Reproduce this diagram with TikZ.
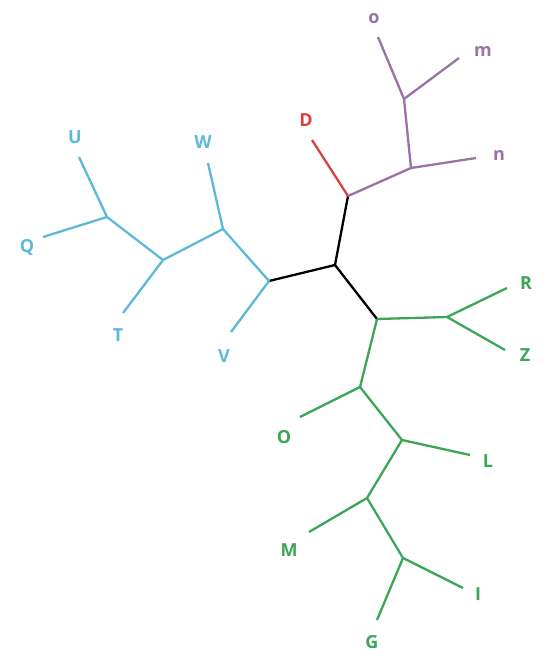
\documentclass[tikz,border=0pt]{standalone}
\usepackage{fontspec}
\setmainfont{Open Sans}
\definecolor{treeblue}{HTML}{5DB9D9}
\definecolor{treepurple}{HTML}{9A72A6}
\definecolor{treered}{HTML}{D9423C}
\definecolor{treegreen}{HTML}{3DA556}
\begin{document}
\begin{tikzpicture}[x=1pt, y=-1pt, line width=2.3pt, line join=round,
  every node/.style={font=\fontsize{18}{18}\selectfont\bfseries, inner sep=0pt},
  bluebranch/.style={draw=treeblue}, bluelabel/.style={text=treeblue},
  purplebranch/.style={draw=treepurple}, purplelabel/.style={text=treepurple},
  greenbranch/.style={draw=treegreen}, greenlabel/.style={text=treegreen}]
\useasboundingbox (0,0) rectangle (548,659);
\coordinate (root) at (335,265);
\coordinate (top) at (348,196);
\coordinate (left) at (269,281);
\coordinate (right) at (377,319);
\coordinate (Dend) at (312,140);
\node[text=treered] (D) at (306,120) {D};
\coordinate (pn) at (411,168);
\coordinate (pm) at (404,99);
\coordinate (nend) at (476,158);
\coordinate (mend) at (459,58);
\coordinate (oend) at (378,37);
\node[purplelabel] (n) at (499,155) {n};
\node[purplelabel] (m) at (483,51) {m};
\node[purplelabel] (o) at (374,19) {o};
\coordinate (pw) at (223,229);
\coordinate (pt) at (163,260);
\coordinate (pq) at (107,217);
\coordinate (Wend) at (208,163);
\coordinate (Uend) at (79,157);
\coordinate (Qend) at (43,237);
\coordinate (Tend) at (123,313);
\coordinate (Vend) at (231,332);
\node[bluelabel] (W) at (203,142) {W};
\node[bluelabel] (U) at (75,137) {U};
\node[bluelabel] (Q) at (27,247) {Q};
\node[bluelabel] (T) at (118,335) {T};
\node[bluelabel] (V) at (224,356) {V};
\coordinate (prz) at (447,317);
\coordinate (po) at (360,387);
\coordinate (pl) at (402,440);
\coordinate (pmg) at (367,498);
\coordinate (pi) at (403,558);
\coordinate (Rend) at (507,288);
\coordinate (Zend) at (505,350);
\coordinate (Oend) at (300,417);
\coordinate (Lend) at (470,455);
\coordinate (Mend) at (309,532);
\coordinate (Iend) at (463,588);
\coordinate (Gend) at (377,620);
\node[greenlabel] (R) at (526,283) {R};
\node[greenlabel] (Z) at (525,355) {Z};
\node[greenlabel] (O) at (284,437) {O};
\node[greenlabel] (L) at (488,461) {L};
\node[greenlabel] (M) at (289,550) {M};
\node[greenlabel] (I) at (478,594) {I};
\node[greenlabel] (G) at (372,642) {G};
\draw (left) -- (root) -- (top);
\draw (root) -- (right);
\draw[treered] (top) -- (Dend);
\draw[purplebranch] (top) -- (pn) -- (nend);
\draw[purplebranch] (pn) -- (pm) -- (mend);
\draw[purplebranch] (pm) -- (oend);
\draw[bluebranch] (left) -- (Vend);
\draw[bluebranch] (left) -- (pw) -- (Wend);
\draw[bluebranch] (pw) -- (pt) -- (Tend);
\draw[bluebranch] (pt) -- (pq) -- (Uend);
\draw[bluebranch] (pq) -- (Qend);
\draw[greenbranch] (right) -- (prz) -- (Rend);
\draw[greenbranch] (prz) -- (Zend);
\draw[greenbranch] (right) -- (po) -- (Oend);
\draw[greenbranch] (po) -- (pl) -- (Lend);
\draw[greenbranch] (pl) -- (pmg) -- (Mend);
\draw[greenbranch] (pmg) -- (pi) -- (Iend);
\draw[greenbranch] (pi) -- (Gend);
\end{tikzpicture}
\end{document}
